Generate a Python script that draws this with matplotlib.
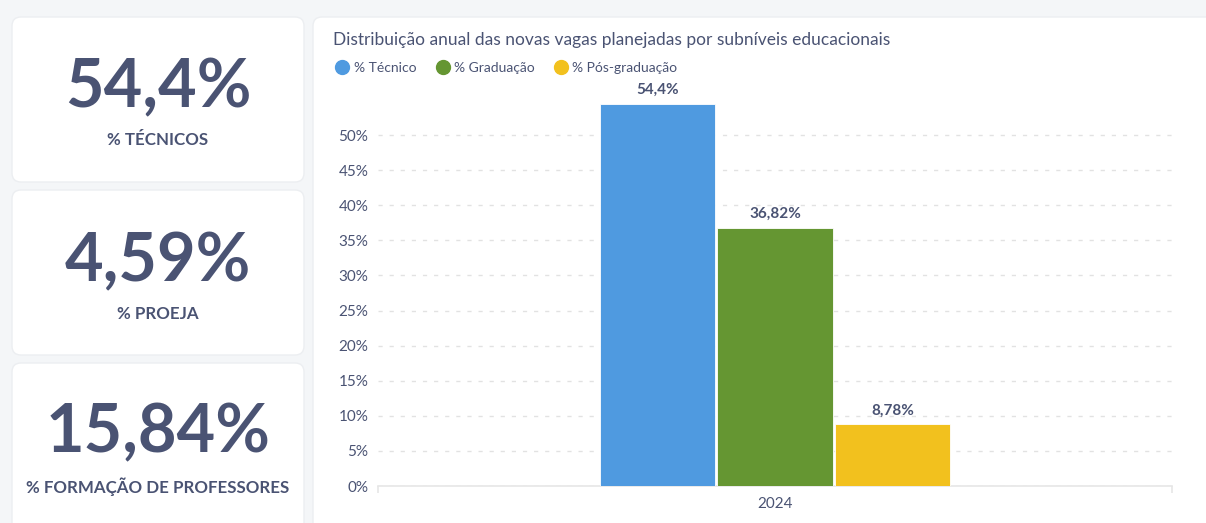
import matplotlib
matplotlib.use("Agg")
import matplotlib.pyplot as plt
from matplotlib.patches import FancyBboxPatch
from matplotlib.lines import Line2D
import numpy as np

plt.rcParams["font.family"] = ["Lato", "DejaVu Sans"]

# data
kpi_values = ["54,4%", "4,59%", "15,84%"]
kpi_labels = ["% TÉCNICOS", "% PROEJA", "% FORMAÇÃO DE PROFESSORES"]
years = ["2024"]
series_names = ["% Técnico", "% Graduação", "% Pós-graduação"]
series_values = [54.4, 36.82, 8.78]
value_labels = ["54,4%", "36,82%", "8,78%"]
colors = ["#4f9ae0", "#659632", "#f2c11e"]

text_color = "#4a5373"
W, H = 1206, 523

fig = plt.figure(figsize=(W / 100, H / 100), dpi=100)
fig.patch.set_facecolor("#f4f6f8")

# background layer in pixel units for the cards
bg = fig.add_axes([0, 0, 1, 1])
bg.set_xlim(0, W)
bg.set_ylim(H, 0)
bg.axis("off")

cards = [(12, 17, 292, 165), (12, 190, 292, 165), (12, 363, 292, 175)]
for (x, y, w, h) in cards:
    bg.add_patch(FancyBboxPatch((x, y), w, h, boxstyle="round,pad=0,rounding_size=9",
                                facecolor="white", edgecolor="#eceef1", linewidth=1))
bg.add_patch(FancyBboxPatch((313, 17), 905, 520, boxstyle="round,pad=0,rounding_size=9",
                            facecolor="white", edgecolor="#eceef1", linewidth=1))

num_y = [88, 262, 433]
lab_y = [140, 314, 487]
for val, lab, ny, ly in zip(kpi_values, kpi_labels, num_y, lab_y):
    bg.text(158, ny, val, ha="center", va="center", fontsize=48, fontweight="bold",
            color=text_color)
    bg.text(158, ly, lab, ha="center", va="center", fontsize=12.2,
            fontweight="bold", color=text_color)

bg.text(333, 40, "Distribuição anual das novas vagas planejadas por subníveis educacionais",
        ha="left", va="center", fontsize=12.5, color=text_color)

# bar chart
ax = fig.add_axes([378 / W, 1 - 486 / H, (1172 - 378) / W, 55 * 7.02 / H])
ax.set_xlim(-0.5, 0.5)
ax.set_ylim(0, 55)

width = 0.145
offsets = np.array([-1, 0, 1]) * 0.148
for off, v, c, lbl, name in zip(offsets, series_values, colors, value_labels, series_names):
    ax.bar(off, v, width=width, color=c, edgecolor="white", linewidth=0.6, zorder=3, label=name)
    ax.annotate(lbl, (off, v), xytext=(0, 5), textcoords="offset points",
                ha="center", va="bottom", fontsize=11, fontweight="bold",
                color=text_color, annotation_clip=False)

yt = np.arange(0, 55, 5)
ax.set_yticks(yt)
ax.set_yticklabels([f"{t}%" for t in yt])
ax.set_xticks([0])
ax.set_xticklabels(years)
ax.set_xticks([-0.5, 0.5], minor=True)
ax.tick_params(axis="y", length=0, pad=7, labelsize=11, labelcolor=text_color)
ax.tick_params(axis="x", which="major", length=0, pad=8, labelsize=11, labelcolor=text_color)
ax.tick_params(axis="x", which="minor", length=5, color="#e6e6e6", width=1.2)
ax.grid(axis="y", color="#e2e2e2", linestyle=(0, (3, 5)), linewidth=1, zorder=0)
for s in ["top", "right", "left"]:
    ax.spines[s].set_visible(False)
ax.spines["bottom"].set_color("#e6e6e6")
ax.spines["bottom"].set_linewidth(1.2)
ax.set_facecolor("none")

handles = [Line2D([], [], marker="o", linestyle="", markersize=10, color=c) for c in colors]
fig.legend(handles, series_names, loc="center left", bbox_to_anchor=(330 / W, 1 - 68 / H),
           ncol=3, frameon=False, fontsize=10, handletextpad=0.3, columnspacing=1.4,
           labelcolor=text_color, borderaxespad=0, handlelength=1.0)

fig.savefig("out.png", dpi=100, facecolor=fig.get_facecolor())
